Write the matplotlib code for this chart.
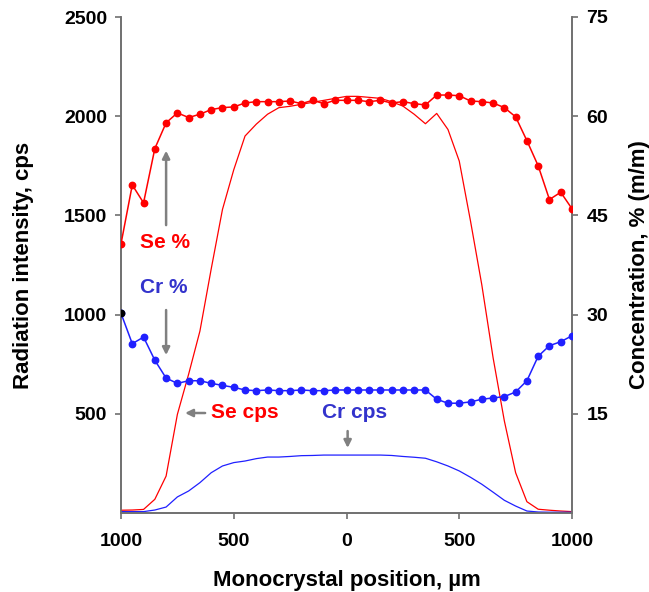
import matplotlib
matplotlib.use("Agg")
import matplotlib.pyplot as plt

plt.rcParams['font.family'] = ['Liberation Sans', 'DejaVu Sans']
plt.rcParams['font.weight'] = 'bold'

position = [-1000, -950, -900, -850, -800, -750, -700, -650, -600, -550,
            -500, -450, -400, -350, -300, -250, -200, -150, -100, -50,
            0, 50, 100, 150, 200, 250, 300, 350, 400, 450,
            500, 550, 600, 650, 700, 750, 800, 850, 900, 950, 1000]

se_pct = [40.7, 49.6, 46.9, 55.1, 59.0, 60.5, 59.8, 60.3, 61.0, 61.3,
          61.4, 62.0, 62.2, 62.2, 62.2, 62.3, 61.9, 62.4, 61.9, 62.4,
          62.4, 62.4, 62.2, 62.4, 62.0, 62.2, 61.9, 61.7, 63.2, 63.2,
          63.1, 62.3, 62.2, 62.0, 61.3, 59.9, 56.3, 52.5, 47.4, 48.5, 46.0]

cr_pct = [30.2, 25.6, 26.6, 23.1, 20.4, 19.6, 20.0, 20.0, 19.6, 19.3,
          19.0, 18.6, 18.5, 18.6, 18.5, 18.5, 18.6, 18.5, 18.5, 18.6,
          18.6, 18.6, 18.6, 18.6, 18.6, 18.6, 18.6, 18.6, 17.2, 16.6,
          16.6, 16.8, 17.2, 17.4, 17.6, 18.3, 20.0, 23.7, 25.3, 25.9, 26.8]

se_cps = [14, 15, 18, 69, 186, 497, 700, 917, 1230, 1530,
          1730, 1900, 1960, 2010, 2043, 2050, 2060, 2070, 2080, 2090,
          2100, 2100, 2095, 2090, 2073, 2051, 2010, 1962, 2014, 1933,
          1774, 1471, 1150, 783, 464, 203, 57, 19, 14, 10, 7]

cr_cps = [7, 7, 7, 15, 30, 81, 111, 153, 203, 237,
          254, 262, 274, 282, 282, 285, 289, 290, 292, 292,
          292, 292, 292, 292, 290, 285, 281, 276, 258, 237,
          212, 180, 145, 105, 64, 35, 10, 5, 4, 4, 4]

x_ticks = [-1000, -500, 0, 500, 1000]
x_ticklabels = ['1000', '500', '0', '500', '1000']
left_ticks = [500, 1000, 1500, 2000, 2500]
right_ticks = [15, 30, 45, 60, 75]

RED = '#ff0000'
BLUE = '#2020ff'
TXT_BLUE = '#3333cc'
GRAY = '#808080'
SPINE = '#707070'

fig = plt.figure(figsize=(6.49, 5.92), dpi=100)
ax = fig.add_axes([121/649, 1 - 513/592, 451/649, 496/592])
ax2 = ax.twinx()

ax.plot(position, se_cps, color=RED, lw=0.9, zorder=3)
ax.plot(position, cr_cps, color=BLUE, lw=0.9, zorder=3)

ax2.plot(position, se_pct, color=RED, lw=1.1, marker='o', ms=4.6, mec=RED, mfc=RED, zorder=4)
ax2.plot(position, cr_pct, color=BLUE, lw=1.1, marker='o', ms=4.6, mec=BLUE, mfc=BLUE, zorder=4)
ax2.plot(position[:1], cr_pct[:1], ls='none', marker='o', ms=4.6, color='black', zorder=5)

ax.set_xlim(-1000, 1000)
ax.set_ylim(0, 2500)
ax2.set_ylim(0, 75)

ax.set_xticks(x_ticks)
ax.set_xticklabels(x_ticklabels)
ax.set_yticks(left_ticks)
ax2.set_yticks(right_ticks)

for a in (ax, ax2):
    a.spines['top'].set_visible(False)
    for s in ('left', 'right', 'bottom'):
        a.spines[s].set_color(SPINE)
        a.spines[s].set_linewidth(1.2)
    a.patch.set_visible(False)

ax.tick_params(axis='x', direction='out', length=4.5, width=1.2, color=SPINE,
               labelsize=14, pad=10)
ax.tick_params(axis='y', direction='out', length=4.5, width=1.2, color=SPINE,
               labelsize=14, pad=5.5)
ax2.tick_params(axis='y', direction='out', length=4.5, width=1.2, color=SPINE,
                labelsize=14, pad=6)

ax.set_xlabel('Monocrystal position, µm', fontsize=16, fontweight='bold')
ax.xaxis.set_label_coords(0.5, -0.115)
ax.set_ylabel('Radiation intensity, cps', fontsize=16, fontweight='bold')
ax.yaxis.set_label_coords(-0.192, 0.5)
ax2.set_ylabel('Concentration, % (m/m)', fontsize=16, fontweight='bold')
ax2.yaxis.set_label_coords(1.126, 0.5)

arrow = dict(arrowstyle='-|>', color=GRAY, lw=1.8, mutation_scale=11, shrinkA=0, shrinkB=0)

ax.text(-805, 1363, 'Se %', color=RED, fontsize=15, fontweight='bold', ha='center', va='center', zorder=6)
ax.annotate('', xy=(-800, 1826), xytext=(-800, 1451), arrowprops=arrow, zorder=6)

ax.text(-810, 1135, 'Cr %', color=TXT_BLUE, fontsize=15, fontweight='bold', ha='center', va='center', zorder=6)
ax.annotate('', xy=(-800, 796), xytext=(-800, 1023), arrowprops=arrow, zorder=6)

ax.text(-601, 505, 'Se cps', color=RED, fontsize=15, fontweight='bold', ha='left', va='center', zorder=6)
ax.annotate('', xy=(-716, 504), xytext=(-627, 504), arrowprops=arrow, zorder=6)

ax.text(35, 505, 'Cr cps', color=TXT_BLUE, fontsize=15, fontweight='bold', ha='center', va='center', zorder=6)
ax.annotate('', xy=(5, 328), xytext=(5, 413), arrowprops=arrow, zorder=6)

fig.savefig('out.png', dpi=100)
